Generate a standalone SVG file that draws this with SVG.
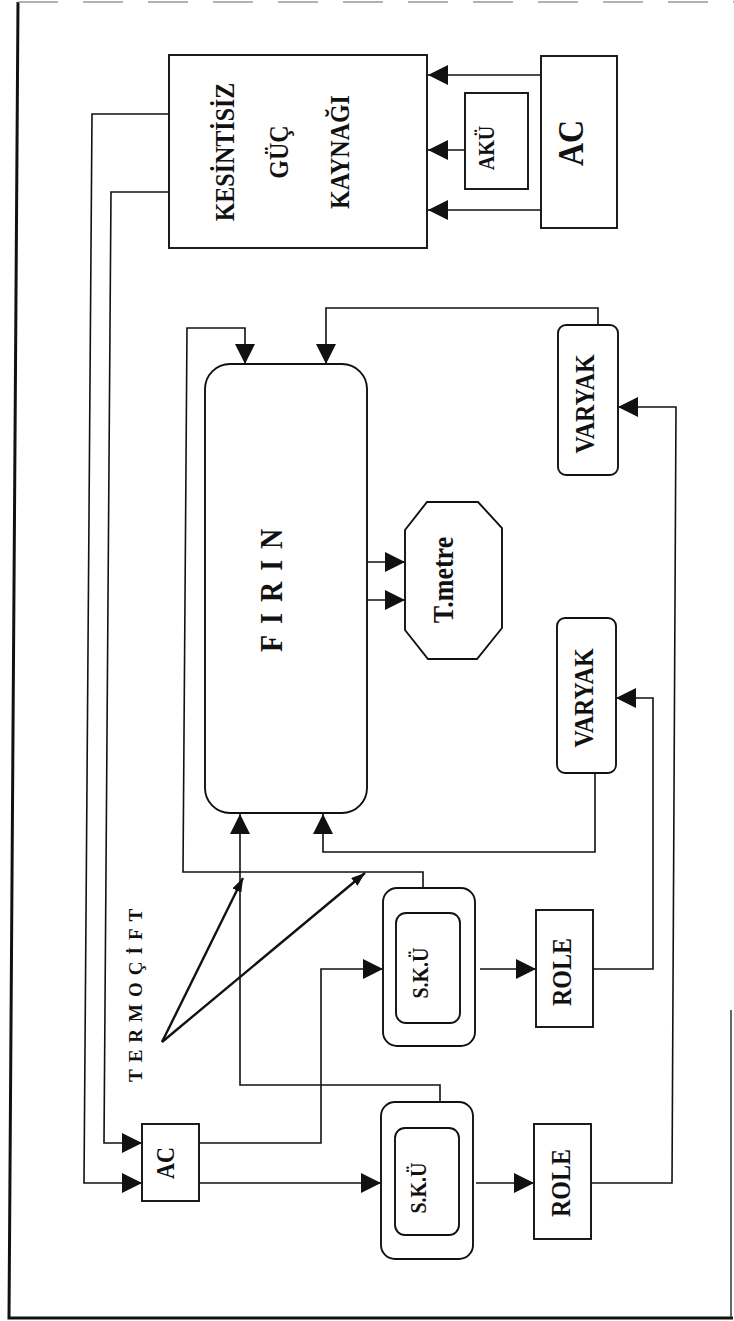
<svg xmlns="http://www.w3.org/2000/svg" width="734" height="1321" viewBox="0 0 734 1321">
<style>
.box{fill:none;stroke:#111;stroke-width:1.9}
.ln{fill:none;stroke:#111;stroke-width:1.6}
.arr{marker-end:url(#ah)}
.th{fill:none;stroke:#111;stroke-width:2.4;marker-end:url(#sh)}
.t{font-family:"Liberation Serif","Times New Roman",serif;font-weight:bold;fill:#111}
</style>
<defs>
<marker id="ah" markerUnits="userSpaceOnUse" markerWidth="20" markerHeight="20" refX="20" refY="10" orient="auto" viewBox="0 0 20 20">
<path d="M0,0 L20,10 L0,20 z" fill="#111"/>
</marker>
<marker id="sh" markerUnits="userSpaceOnUse" markerWidth="14" markerHeight="10" refX="14" refY="5" orient="auto" viewBox="0 0 14 10">
<path d="M0,0 L14,5 L0,10 z" fill="#111"/>
</marker>
</defs>
<rect width="734" height="1321" fill="#fff"/>
<g id="frame">
<path d="M18,2 L9,1318 L733,1318" fill="none" stroke="#111" stroke-width="3"/>
<path d="M18,2 H734" fill="none" stroke="#999" stroke-width="1.5" stroke-dasharray="40,25"/>
<path d="M731,1010 V1318" fill="none" stroke="#333" stroke-width="1.5"/>
</g>
<g id="connectors">
<path class="ln arr" d="M541,75 H428"/>
<path class="ln arr" d="M465,150 H428"/>
<path class="ln arr" d="M541,210 H428"/>
<path class="ln arr" d="M169,114 H92 L84,1183 H142"/>
<path class="ln arr" d="M169,192 H111 L104,1143 H142"/>
<path class="ln arr" d="M199,1143 H321 V969 H383"/>
<path class="ln arr" d="M199,1183 H381"/>
<path class="ln arr" d="M480,969 H536"/>
<path class="ln arr" d="M476,1183 H534"/>
<path class="ln arr" d="M593,969 H653 V698 H616"/>
<path class="ln arr" d="M591,1183 H672 L676,407 H618"/>
<path class="ln arr" d="M598,325 V308 H326 V364"/>
<path class="ln arr" d="M595,773 V852 H323 V814"/>
<path class="ln arr" d="M423,888 V872 H183 L187,328 H245 V364"/>
<path class="ln arr" d="M440,1102 V1085 H240 V814"/>
<path class="ln arr" d="M367,562 H405"/>
<path class="ln arr" d="M367,600 H405"/>
<path class="th" d="M162,1042 L243,878"/>
<path class="th" d="M162,1042 L365,873"/>
</g>
<g id="kgk">
<rect class="box" x="169" y="55" width="258" height="193"/>
<text class="t" font-size="24" text-anchor="middle" transform="translate(234,152) rotate(-90) scale(1,1.15)">KESİNTİSİZ</text>
<text class="t" font-size="24" text-anchor="middle" transform="translate(288,152) rotate(-90) scale(1,1.15)">GÜÇ</text>
<text class="t" font-size="24" text-anchor="middle" transform="translate(349,152) rotate(-90) scale(1,1.15)">KAYNAĞI</text>
</g>
<g id="ac-main">
<rect class="box" x="541" y="56" width="76" height="172"/>
<text class="t" font-size="32" text-anchor="middle" transform="translate(583,143) rotate(-90) scale(1,1.1)">AC</text>
</g>
<g id="aku">
<rect class="box" x="465" y="93" width="63" height="96"/>
<text class="t" font-size="20" text-anchor="middle" transform="translate(494,148) rotate(-90) scale(1,1.15)">AKÜ</text>
</g>
<g id="firin">
<rect class="box" x="205" y="364" width="162" height="449" rx="25" ry="25"/>
<text class="t" font-size="28" letter-spacing="11" transform="translate(282,652) rotate(-90) scale(1,1.1)">FIRIN</text>
</g>
<g id="tmetre">
<polygon class="box" points="427,502 478,502 502,528 502,628 477,659 428,659 405,630 405,530"/>
<text class="t" font-size="26" text-anchor="middle" transform="translate(453,580) rotate(-90) scale(1,1.1)">T.metre</text>
</g>
<g id="varyak1">
<rect class="box" x="558" y="325" width="60" height="150" rx="8" ry="8"/>
<text class="t" font-size="24" text-anchor="middle" transform="translate(594,404) rotate(-90) scale(1,1.15)">VARYAK</text>
</g>
<g id="varyak2">
<rect class="box" x="557" y="618" width="59" height="155" rx="8" ry="8"/>
<text class="t" font-size="24" text-anchor="middle" transform="translate(593,698) rotate(-90) scale(1,1.15)">VARYAK</text>
</g>
<g id="ac-low">
<rect class="box" x="142" y="1124" width="57" height="77"/>
<text class="t" font-size="22" text-anchor="middle" transform="translate(174,1163) rotate(-90) scale(1,1.15)">AC</text>
</g>
<g id="sku1">
<rect class="box" x="383" y="888" width="92" height="158" rx="14" ry="14"/>
<rect class="box" x="396" y="913" width="64" height="110" rx="10" ry="10"/>
<text class="t" font-size="20" text-anchor="middle" transform="translate(428,973) rotate(-90) scale(1,1.15)">S.K.Ü</text>
</g>
<g id="sku2">
<rect class="box" x="381" y="1102" width="92" height="157" rx="14" ry="14"/>
<rect class="box" x="395" y="1128" width="64" height="107" rx="10" ry="10"/>
<text class="t" font-size="20" text-anchor="middle" transform="translate(426,1188) rotate(-90) scale(1,1.15)">S.K.Ü</text>
</g>
<g id="role1">
<rect class="box" x="536" y="910" width="57" height="117"/>
<text class="t" font-size="24" text-anchor="middle" transform="translate(571,972) rotate(-90) scale(1,1.15)">ROLE</text>
</g>
<g id="role2">
<rect class="box" x="534" y="1124" width="57" height="115"/>
<text class="t" font-size="24" text-anchor="middle" transform="translate(570,1183) rotate(-90) scale(1,1.15)">ROLE</text>
</g>
<g id="termocift">
<text class="t" font-size="19" letter-spacing="7" transform="translate(142,1082) rotate(-90)">TERMOÇİFT</text>
</g>
</svg>
